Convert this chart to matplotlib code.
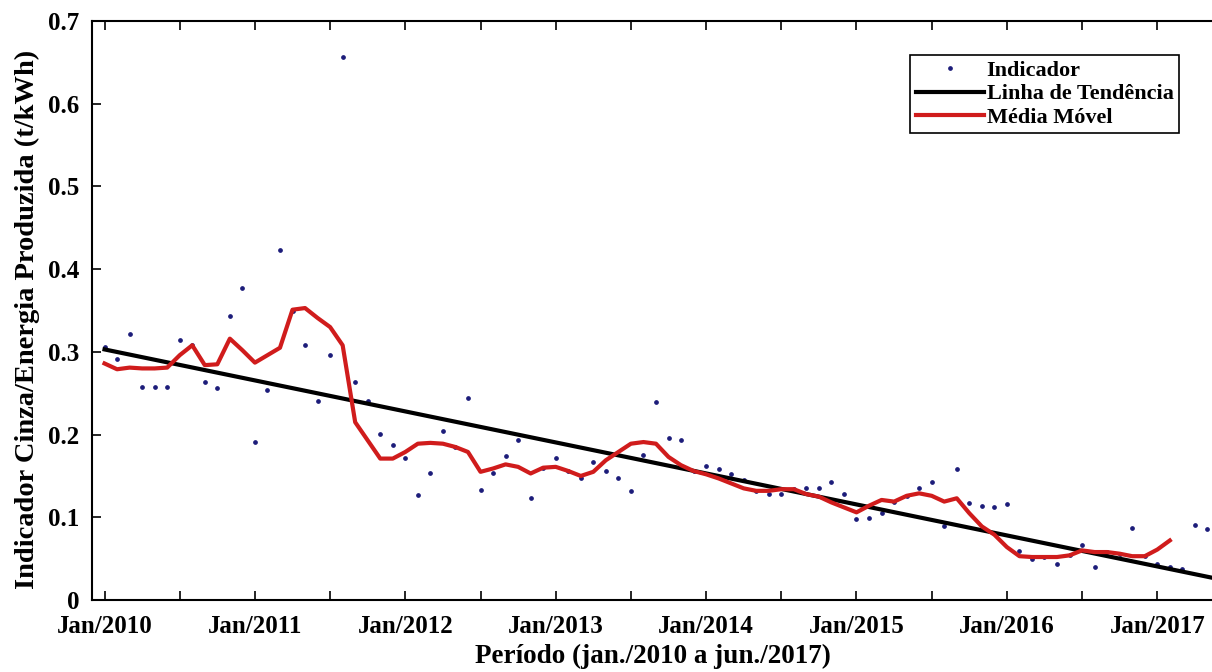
import numpy as np
from matplotlib import pyplot as plt

# month index: 0 = Jan/2010 ... 89 = Jun/2017
meses = np.arange(90)

indicador = [0.306, 0.291, 0.322, 0.257, 0.258, 0.258, 0.314, 0.308, 0.264, 0.256,
             0.343, 0.377, 0.191, 0.254, 0.423, 0.350, 0.308, 0.241, 0.296, 0.657,
             0.263, 0.241, 0.201, 0.187, 0.172, 0.127, 0.154, 0.204, 0.185, 0.244,
             0.133, 0.153, 0.174, 0.194, 0.123, 0.160, 0.172, 0.156, 0.148, 0.167,
             0.156, 0.148, 0.132, 0.175, 0.239, 0.196, 0.193, 0.156, 0.162, 0.158,
             0.152, 0.145, 0.132, 0.128, 0.128, 0.134, 0.136, 0.136, 0.143, 0.128,
             0.098, 0.099, 0.105, 0.119, 0.126, 0.135, 0.143, 0.089, 0.158, 0.117,
             0.114, 0.113, 0.116, 0.059, 0.049, 0.052, 0.044, 0.054, 0.066, 0.040,
             0.058, 0.056, 0.087, 0.053, 0.044, 0.040, 0.037, 0.091, 0.086, 0.080]

media_movel = [0.286, 0.279, 0.281, 0.280, 0.280, 0.281, 0.296, 0.308, 0.284, 0.285,
               0.316, 0.302, 0.287, 0.296, 0.305, 0.351, 0.353, 0.341, 0.330, 0.308,
               0.215, 0.193, 0.171, 0.171, 0.179, 0.189, 0.190, 0.189, 0.185, 0.179,
               0.155, 0.159, 0.164, 0.161, 0.153, 0.160, 0.161, 0.156, 0.150, 0.155,
               0.169, 0.179, 0.189, 0.191, 0.189, 0.173, 0.163, 0.156, 0.152, 0.147,
               0.141, 0.135, 0.132, 0.132, 0.134, 0.134, 0.128, 0.125, 0.118, 0.112,
               0.106, 0.114, 0.121, 0.119, 0.126, 0.129, 0.126, 0.119, 0.123, 0.105,
               0.089, 0.079, 0.064, 0.053, 0.052, 0.052, 0.052, 0.054, 0.060, 0.058,
               0.058, 0.056, 0.053, 0.053, 0.061, 0.072]

tendencia_x = [0, 89]
tendencia_y = [0.303, 0.025]

rotulos_x = ['Jan/2010', 'Jan/2011', 'Jan/2012', 'Jan/2013',
             'Jan/2014', 'Jan/2015', 'Jan/2016', 'Jan/2017']

plt.rcParams['font.family'] = ['Liberation Serif', 'DejaVu Serif']
plt.rcParams['font.weight'] = 'bold'

fig = plt.figure(figsize=(12.12, 6.72), dpi=100)
ax = fig.add_axes([0.0759, 0.1071, 0.941, 0.8616])

ax.plot(meses, indicador, linestyle='none', marker='o', markersize=2.4,
        color='#1c1c7a', label='Indicador')
ax.plot(tendencia_x, tendencia_y, color='black', linewidth=3, label='Linha de Tendência')
ax.plot(meses[:len(media_movel)], media_movel, color='#d01c1c', linewidth=3,
        label='Média Móvel')

ax.set_xlim(-1, 90)
ax.set_ylim(0, 0.7)
ax.set_xticks(np.arange(0, 90, 6))
ax.set_xticklabels([rotulos_x[k // 2] if k % 2 == 0 else '' for k in range(15)])
ax.set_yticks(np.arange(0, 0.71, 0.1))
ax.set_yticklabels(['0', '0.1', '0.2', '0.3', '0.4', '0.5', '0.6', '0.7'])
ax.tick_params(direction='in', length=6.5, width=1.2, labelsize=18, top=True, right=True)
ax.tick_params(axis='x', pad=11)
ax.tick_params(axis='y', pad=9)
for s in ax.spines.values():
    s.set_linewidth(1.5)

ax.set_xlabel('Período (jan./2010 a jun./2017)', fontsize=19.5, fontweight='bold')
ax.set_ylabel('Indicador Cinza/Energia Produzida (t/kWh)', fontsize=20.5, fontweight='bold')
ax.xaxis.set_label_coords(0.492, -0.098)
ax.yaxis.set_label_coords(-0.057, 0.485)
ax.xaxis.label.set_va('center')
ax.yaxis.label.set_va('center')

leg = ax.legend(loc='upper left', bbox_to_anchor=(910 / 1212, 1 - 55 / 672),
                bbox_transform=fig.transFigure, fontsize=16, handlelength=3.1,
                handletextpad=0.1, borderpad=0.25, labelspacing=0.12, borderaxespad=0,
                fancybox=False, framealpha=1, edgecolor='black')
leg.get_frame().set_linewidth(1.2)

fig.savefig('out.png', dpi=100)
